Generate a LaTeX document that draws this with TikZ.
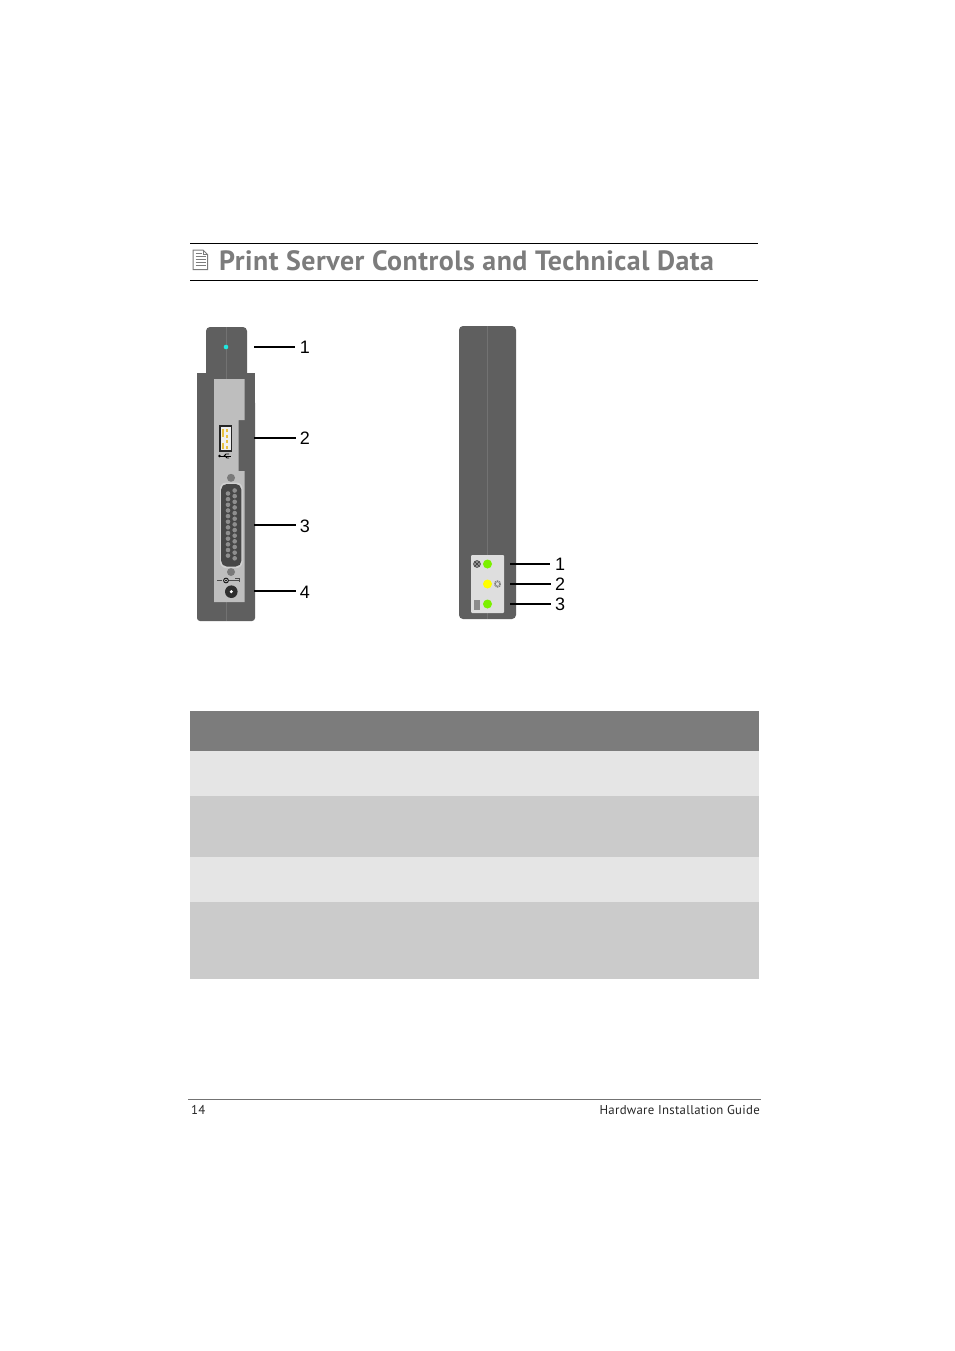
\documentclass[tikz,border=0pt]{standalone}
\usepackage{fontspec}
\setmainfont{PT Sans}
\newfontfamily\lblfont{Liberation Sans}
\newfontfamily\ttl[LetterSpace=1.8]{PT Sans Bold}
\newfontfamily\foot[LetterSpace=2.2]{PT Sans}
\definecolor{body}{HTML}{5F5F5F}
\definecolor{seam}{HTML}{727272}
\definecolor{panelL}{HTML}{BEBEBE}
\definecolor{panelR}{HTML}{DEDEDE}
\definecolor{titlegray}{HTML}{7C7C7C}
\definecolor{rowlight}{HTML}{E5E5E5}
\definecolor{rowdark}{HTML}{CBCBCB}
\definecolor{ledgreen}{HTML}{7CF000}
\definecolor{ledyellow}{HTML}{FFFF00}
\definecolor{ledcyan}{HTML}{20E8E0}
\definecolor{pincolor}{HTML}{8E8E8E}
\definecolor{usbgold}{HTML}{E8C040}
\tikzset{
  leader/.style={draw=black,line width=1.3pt},
  calllabel/.style={font=\lblfont\fontsize{18}{18}\selectfont,text=black,anchor=center,inner sep=0pt},
  rule/.style={draw=black,line width=0.9pt},
  bodyfill/.style={fill=body,draw=none},
  seamline/.style={draw=seam,line width=0.6pt},
  band/.style={draw=none},
}
\begin{document}
\begin{tikzpicture}[x=1pt,y=-1pt]
\useasboundingbox[fill=white] (0,0) rectangle (954,1351);
% header
\draw[rule] (190,243.5) -- (758,243.5);
\draw[rule] (190,280.5) -- (758,280.5);
\node[anchor=base west,inner sep=0pt,text=titlegray,font=\ttl\fontsize{27.9}{27.9}\selectfont] (title) at (219,270.5) {Print Server Controls and Technical Data};
% document icon
\draw[draw=titlegray,line width=1pt,fill=white] (193,250) -- (203,250) -- (207.5,254.5) -- (207.5,269.5) -- (193,269.5) -- cycle;
\draw[draw=titlegray,line width=0.8pt] (203,250) -- (203,254.5) -- (207.5,254.5);
\foreach \yy in {253.5,256.5,259.5,262.5,265.5}{\draw[draw=titlegray,line width=1pt] (195.5,\yy) -- (202,\yy);}
\foreach \yy in {256.5,259.5,262.5,265.5}{\draw[draw=titlegray,line width=1pt] (202,\yy) -- (205.5,\yy);}
% left device
\fill[bodyfill,rounded corners=4pt] (206,380) -- (206,327) -- (247,327) -- (247,380) -- cycle;
\fill[bodyfill,rounded corners=3pt] (197,400) -- (197,621) -- (255,621) -- (255,400) -- cycle;
\fill[bodyfill] (197,372.5) rectangle (255,410);
\draw[seamline] (226,327) -- (226,379);
\draw[seamline] (226,602) -- (226,621);
\fill[panelL] (214,379) -- (244.5,379) -- (244.5,420) -- (238.5,420) -- (238.5,471) -- (244.5,471) -- (244.5,602) -- (214,602) -- cycle;
\fill[ledcyan] (226,347) circle (2.3);
% USB
\fill[black!85] (219,425) rectangle (232,451.5);
\fill[white!94!black] (220.5,426.5) rectangle (230.5,450);
\fill[usbgold] (221.5,428.5) rectangle (223.5,437);
\fill[usbgold] (221.5,442.5) rectangle (223.5,449);
\foreach \yy in {429,434.5,440,445.5}{\fill[usbgold] (226.3,\yy) rectangle (228.2,\yy+3);}
\fill[black] (219.5,456) circle (1.3);
\draw[black,line width=0.9pt] (220,456) -- (231,456);
\draw[black,line width=0.8pt] (224,456) -- (226,454) -- (229,454) (225,456) -- (227,458) -- (229,458);
% screws
\fill[fill=black!52] (231,477.8) circle (4);
\fill[fill=black!52] (231,572) circle (4);
% D-sub
\fill[fill=black!18,rounded corners=6pt] (220,482.5) -- (242.5,482.5) -- (242.5,568) -- (220,568) -- cycle;
\fill[fill=black!72,rounded corners=5.5pt] (221.2,484) -- (241.3,484) -- (241.3,566.5) -- (221.2,566.5) -- cycle;
\foreach \i in {0,...,11}{\fill[pincolor] (228,{493.5+5.65*\i}) circle (2.3);}
\foreach \i in {0,...,12}{\fill[pincolor] (234.7,{490.5+5.65*\i}) circle (2.3);}
% power jack
\draw[black!70,line width=0.7pt] (217,580.5) -- (222,580.5) (229,580.5) -- (233,580.5);
\draw[black,line width=0.8pt] (226,580.5) circle (2.4);
\fill[black] (226,580.5) circle (0.9);
\draw[black!70,line width=0.7pt] (233,580.5) -- (239.5,580.5) (235,578.5) -- (239.5,578.5) (239.5,578.5) -- (239.5,582);
\fill[fill=black!82] (231.3,591.7) circle (6.3);
\fill[fill=white] (231.3,591.7) circle (1.7);
% left leaders
\coordinate (la1) at (254,347);
\coordinate (la2) at (254,438);
\coordinate (la3) at (254,525);
\coordinate (la4) at (254,591);
\node[calllabel] (l1) at (305,347.5) {1};
\node[calllabel] (l2) at (305,438) {2};
\node[calllabel] (l3) at (305,526) {3};
\node[calllabel] (l4) at (305,592) {4};
\draw[leader] (la1) -- ([xshift=-5pt]l1.west |- la1);
\draw[leader] (la2) -- ([xshift=-4pt]l2.west |- la2);
\draw[leader] (la3) -- ([xshift=-4pt]l3.west |- la3);
\draw[leader] (la4) -- ([xshift=-4pt]l4.west |- la4);
% right device
\fill[bodyfill,rounded corners=4pt] (459,326) rectangle (516,619);
\draw[seamline] (487.5,326) -- (487.5,555);
\draw[seamline] (487.5,613) -- (487.5,619);
\fill[panelR,rounded corners=1pt] (471,555) rectangle (504,613);
\fill[ledgreen] (487.5,564) circle (4.5);
\fill[ledyellow] (487.5,584) circle (4.5);
\fill[ledgreen] (487.5,604) circle (4.5);
\draw[black!70,line width=0.8pt,fill=black!40] (477,564) circle (3.4);
\draw[black!80,line width=0.5pt] (475,562) -- (479,566) (475,566) -- (479,562);
\draw[black!50,line width=1.8pt,dash pattern=on 1pt off 0.7pt] (497.5,584) circle (2.7);
\fill[black!45] (474,600) rectangle (480,609.5);
% right leaders
\coordinate (ra1) at (510,564);
\coordinate (ra2) at (510,584);
\coordinate (ra3) at (510,604);
\node[calllabel] (r1) at (560,564.5) {1};
\node[calllabel] (r2) at (560,584.5) {2};
\node[calllabel] (r3) at (560,604.5) {3};
\draw[leader] (ra1) -- ([xshift=-5pt]r1.west |- ra1);
\draw[leader] (ra2) -- ([xshift=-4pt]r2.west |- ra2);
\draw[leader] (ra3) -- ([xshift=-4pt]r3.west |- ra3);
% table
\fill[band,fill=titlegray] (190,711) rectangle (759,751);
\fill[band,fill=rowlight] (190,751) rectangle (759,796);
\fill[band,fill=rowdark] (190,796) rectangle (759,857);
\fill[band,fill=rowlight] (190,857) rectangle (759,902);
\fill[band,fill=rowdark] (190,902) rectangle (759,979);
% footer
\draw[draw=black!55,line width=0.8pt] (188,1099.5) -- (761,1099.5);
\node[anchor=base west,inner sep=0pt,font=\foot\fontsize{12.8}{12.8}\selectfont,text=black!85] (pg) at (191,1114) {14};
\node[anchor=base east,inner sep=0pt,font=\foot\fontsize{12.8}{12.8}\selectfont,text=black!85] (guide) at (760,1114) {Hardware Installation Guide};
\end{tikzpicture}
\end{document}
